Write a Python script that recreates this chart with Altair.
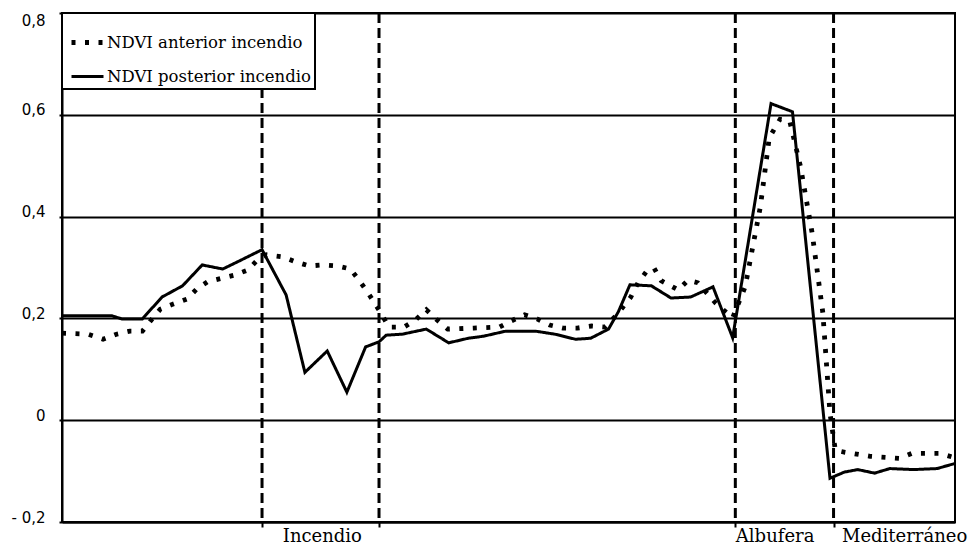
import altair as alt
import pandas as pd

# --- data ---
serie_ant = "NDVI  anterior incendio"
serie_post = "NDVI posterior incendio"

x_ant = [0.0, 2.9, 4.6, 6.1, 7.6, 9.0, 10.0, 11.0, 12.4, 14.0, 15.1, 16.3, 17.9, 19.3,
         20.8, 21.9, 22.9, 24.7, 26.2, 27.7, 29.2, 30.9, 32.3, 33.3, 34.2, 35.7, 36.6,
         38.3, 39.6, 40.8, 42.0, 43.2, 46.1, 49.0, 50.3, 51.8, 53.2, 54.6, 56.1, 57.7,
         59.3, 60.8, 61.9, 62.8, 63.7, 64.5, 65.4, 66.3, 67.1, 69.0, 70.1, 71.2, 73.2,
         75.1, 76.5, 78.2, 79.2, 80.4, 81.5, 82.7, 84.0, 85.2, 86.0, 86.6, 87.7, 90.5,
         93.8, 95.2, 98.3, 99.8]
y_ant = [0.171, 0.169, 0.159, 0.169, 0.175, 0.175, 0.197, 0.218, 0.228, 0.238, 0.258,
         0.272, 0.279, 0.285, 0.295, 0.315, 0.325, 0.321, 0.311, 0.303, 0.305, 0.303,
         0.297, 0.274, 0.252, 0.211, 0.183, 0.183, 0.197, 0.217, 0.197, 0.179, 0.181,
         0.183, 0.195, 0.207, 0.199, 0.187, 0.181, 0.181, 0.185, 0.183, 0.203, 0.222,
         0.242, 0.270, 0.291, 0.299, 0.274, 0.256, 0.275, 0.270, 0.230, 0.201, 0.262,
         0.419, 0.555, 0.591, 0.587, 0.498, 0.368, 0.211, 0.014, -0.059, -0.063, -0.071,
         -0.075, -0.065, -0.065, -0.073]

x_post = [0.0, 5.6, 6.7, 9.0, 11.2, 13.5, 15.7, 18.0, 20.1, 22.4, 25.1, 27.2, 29.7, 31.9,
          34.0, 35.5, 36.3, 38.1, 40.8, 43.3, 45.5, 47.2, 49.7, 53.0, 55.2, 57.5, 59.2,
          61.2, 62.3, 63.6, 66.0, 68.2, 70.4, 72.9, 75.1, 79.4, 81.8, 86.0, 87.6, 89.1,
          91.0, 92.7, 95.4, 98.0, 100.0]
y_post = [0.205, 0.205, 0.199, 0.199, 0.242, 0.264, 0.305, 0.297, 0.315, 0.335, 0.246,
          0.094, 0.136, 0.055, 0.144, 0.154, 0.167, 0.169, 0.179, 0.152, 0.161, 0.165,
          0.175, 0.175, 0.169, 0.159, 0.161, 0.179, 0.213, 0.266, 0.264, 0.240, 0.242,
          0.262, 0.162, 0.622, 0.606, -0.114, -0.102, -0.097, -0.104, -0.095, -0.097,
          -0.095, -0.085]

limites = [22.4, 35.5, 75.4, 86.4]
zonas = ["Incendio", "Albufera", "Mediterráneo"]
zonas_x = [29.1, 79.8, 94.3]
y_ticks = [-0.2, 0, 0.2, 0.4, 0.6, 0.8]

df = pd.DataFrame({
    "x": x_ant + x_post,
    "ndvi": y_ant + y_post,
    "serie": [serie_ant] * len(x_ant) + [serie_post] * len(x_post),
})
df_lim = pd.DataFrame({"x": limites})

label_expr = " : ".join(f"datum.value == {v} ? '{n}'" for v, n in zip(zonas_x, zonas)) + " : ''"
label_test = " || ".join(f"datum.value == {v}" for v in zonas_x)

xscale = alt.Scale(domain=[0, 100], nice=False, zero=False)
yscale = alt.Scale(domain=[-0.2, 0.8], nice=False)

x_axis = alt.Axis(
    values=limites + zonas_x, labelExpr=label_expr, title=None, grid=False,
    domainColor="black", domainWidth=2, tickColor="black", tickSize=5, tickWidth=2,
    tickOpacity={"condition": {"test": label_test, "value": 0}, "value": 1},
    labelFont="DejaVu Serif", labelFontSize=18, labelColor="black", labelPadding=0,
    labelOverlap=False, labelFlush=False,
)
y_axis = alt.Axis(
    values=y_ticks, title=None, grid=True, gridColor="black", gridWidth=2, gridOpacity=1,
    labelExpr="datum.value == 0 ? '0' : (datum.value < 0 ? '- ' : '') + replace(format(abs(datum.value), '.1f'), '.', ',')",
    domainColor="black", domainWidth=2, tickColor="black", tickSize=3, tickWidth=2,
    labelFont="DejaVu Sans", labelFontSize=15, labelColor="black", labelPadding=14,
    labelBaseline={"condition": {"test": "datum.value >= 0.79", "value": "top"}, "value": "alphabetic"},
)

leg = alt.Legend(
    title=" ", titleFontSize=9, titlePadding=6, orient="none", legendX=0, legendY=0,
    symbolType="M-2,0H2", symbolSize=256, symbolStrokeColor="black",
    symbolOffset=11, labelOffset=9, labelLimit=400,
    labelFont="DejaVu Serif", labelFontSize=16.5, labelColor="black",
    fillColor="white", strokeColor="black", padding=4, rowPadding=14,
)

lines = alt.Chart(df).mark_line(color="black", strokeCap="butt").encode(
    x=alt.X("x:Q", scale=xscale, axis=x_axis),
    y=alt.Y("ndvi:Q", scale=yscale, axis=y_axis),
    strokeDash=alt.StrokeDash(
        "serie:N",
        scale=alt.Scale(domain=[serie_ant, serie_post], range=[[4, 9.5], [1, 0]]),
        legend=leg,
    ),
    strokeWidth=alt.StrokeWidth(
        "serie:N",
        scale=alt.Scale(domain=[serie_ant, serie_post], range=[4.8, 3]),
        legend=leg,
    ),
)

rules = alt.Chart(df_lim).mark_rule(color="black", strokeWidth=3, strokeDash=[10, 5]).encode(
    x=alt.X("x:Q", scale=xscale, axis=x_axis),
)

chart = alt.layer(lines, rules).properties(
    width=893, height=509,
    autosize=alt.AutoSizeParams(type="none"),
    padding={"left": 54, "top": 5, "right": 17, "bottom": 24},
    background="white",
).configure_view(stroke="black", strokeWidth=2).configure_legend(strokeWidth=2)

chart.save("out.html", embed_options={"renderer": "svg", "actions": False})
